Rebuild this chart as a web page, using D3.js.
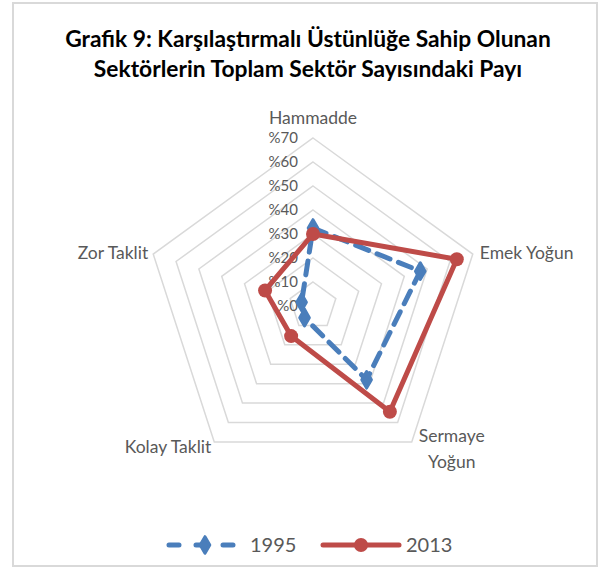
<!DOCTYPE html>
<html><head><meta charset="utf-8">
<script src="https://cdn.jsdelivr.net/npm/d3@7"></script>
<style>body{margin:0;background:#fff}svg{display:block}</style>
</head><body>
<svg id="c" width="601" height="568"></svg>
<script>
const categories = ["Hammadde", "Emek Yoğun", "Sermaye Yoğun", "Kolay Taklit", "Zor Taklit"];
const values1995 = [32.5, 47, 38, 6, 5];
const values2013 = [30, 63, 54.5, 15.5, 21];
const tickValues = [0, 10, 20, 30, 40, 50, 60, 70];
const tickLabels = ["%0", "%10", "%20", "%30", "%40", "%50", "%60", "%70"];
const seriesNames = ["1995", "2013"];

const svg = d3.select("#c");
const cx = 313, cy = 306, R = 168;
const r = d3.scaleLinear().domain([0, 70]).range([0, R]);
const ang = d3.scalePoint().domain(categories).range([0, 2 * Math.PI * 4 / 5]);
const pt = (c, v) => { const a = ang(c); return [cx + r(v) * Math.sin(a), cy - r(v) * Math.cos(a)]; };

// frame
svg.append("rect").attr("x", 13).attr("y", 3).attr("width", 584).attr("height", 563)
  .attr("fill", "#fff").attr("stroke", "#d9d9d9").attr("stroke-width", 2);

// title
const title = svg.append("text").attr("text-anchor", "middle").attr("font-family", "Lato, 'Open Sans', sans-serif")
  .attr("font-weight", "bold").attr("font-size", 22.8).attr("fill", "#000");
title.append("tspan").attr("x", 308).attr("y", 47).text("Grafik 9: Karşılaştırmalı Üstünlüğe Sahip Olunan");
title.append("tspan").attr("x", 308).attr("y", 77).text("Sektörlerin Toplam Sektör Sayısındaki Payı");

// grid rings
const g = svg.append("g");
tickValues.filter(v => v > 0).forEach(v => {
  g.append("path").attr("d", d3.line()(categories.map(c => pt(c, v))) + "Z")
    .attr("fill", "none").attr("stroke", "#d9d9d9").attr("stroke-width", 1.5);
});

// tick labels
tickValues.forEach((v, i) => {
  g.append("text").attr("x", cx - 15).attr("y", cy - r(v)).attr("dy", "0.35em")
    .attr("text-anchor", "end").attr("font-family", "Lato, sans-serif").attr("font-size", 15)
    .attr("fill", "#595959").text(tickLabels[i]);
});

// category labels
const labelFont = "Lato, sans-serif";
const lab = (x, y, t, anchor) => g.append("text").attr("x", x).attr("y", y).attr("dy", "0.35em")
  .attr("text-anchor", anchor).attr("font-family", labelFont).attr("font-size", 17.5).attr("fill", "#595959").text(t);
{
  const p0 = pt(categories[0], 70); lab(p0[0], p0[1] - 20, categories[0], "middle");
  const p1 = pt(categories[1], 70); lab(p1[0] + 7, p1[1] - 1, categories[1], "start");
  const p2 = pt(categories[2], 70);
  const words = categories[2].split(" ");
  lab(p2[0] + 40, p2[1] - 6, words[0], "middle");
  lab(p2[0] + 40, p2[1] + 20, words[1], "middle");
  const p3 = pt(categories[3], 70); lab(p3[0] - 3, p3[1] + 5, categories[3], "end");
  const p4 = pt(categories[4], 70); lab(p4[0] - 5, p4[1] - 1, categories[4], "end");
}

const blue = "#4a7ebb", red = "#be4b48";
const line = d3.line();
// 1995
const pts95 = categories.map((c, i) => pt(c, values1995[i]));
g.append("path").attr("d", line(pts95) + "Z").attr("fill", "none").attr("stroke", blue)
  .attr("stroke-width", 5).attr("stroke-dasharray", "14 9").attr("stroke-linecap", "round").attr("stroke-linejoin", "round");
g.selectAll(".m95").data(pts95).enter().append("path")
  .attr("transform", d => `translate(${d[0]},${d[1]})`)
  .attr("d", d3.symbol(d3.symbolDiamond, 80)).attr("fill", blue).attr("stroke", blue).attr("stroke-width", 3).attr("stroke-linejoin", "round");
// 2013
const pts13 = categories.map((c, i) => pt(c, values2013[i]));
g.append("path").attr("d", line(pts13) + "Z").attr("fill", "none").attr("stroke", red)
  .attr("stroke-width", 5).attr("stroke-linejoin", "round");
g.selectAll(".m13").data(pts13).enter().append("circle")
  .attr("cx", d => d[0]).attr("cy", d => d[1]).attr("r", 7).attr("fill", red);

// legend
const ly = 545;
const lg = svg.append("g");
lg.append("line").attr("x1", 169).attr("x2", 241).attr("y1", ly).attr("y2", ly).attr("stroke", blue)
  .attr("stroke-width", 5).attr("stroke-dasharray", "10 17").attr("stroke-linecap", "round");
lg.append("path").attr("transform", `translate(205,${ly})`).attr("d", d3.symbol(d3.symbolDiamond, 80))
  .attr("fill", blue).attr("stroke", blue).attr("stroke-width", 3).attr("stroke-linejoin", "round");
lg.append("text").attr("x", 250).attr("y", ly).attr("dy", "0.35em").attr("font-family", labelFont)
  .attr("font-size", 20).attr("fill", "#595959").text(seriesNames[0]);
lg.append("line").attr("x1", 323).attr("x2", 399).attr("y1", ly).attr("y2", ly).attr("stroke", red)
  .attr("stroke-width", 5).attr("stroke-linecap", "round");
lg.append("circle").attr("cx", 361).attr("cy", ly).attr("r", 7).attr("fill", red);
lg.append("text").attr("x", 406).attr("y", ly).attr("dy", "0.35em").attr("font-family", labelFont)
  .attr("font-size", 20).attr("fill", "#595959").text(seriesNames[1]);
</script>
</body></html>
